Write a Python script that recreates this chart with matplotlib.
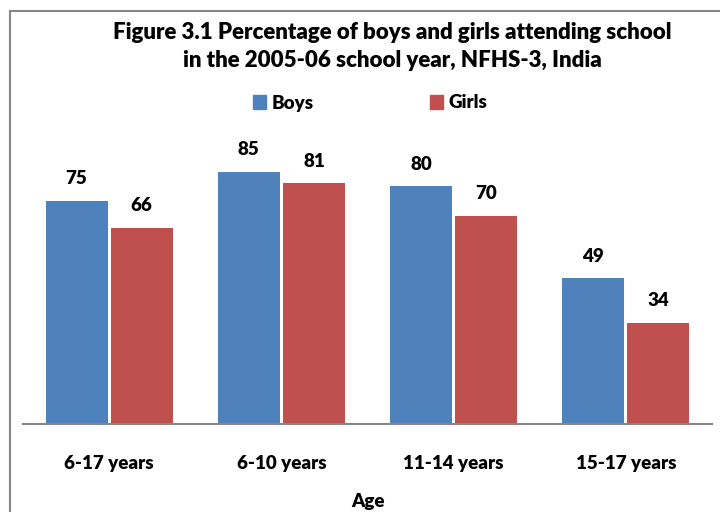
import matplotlib
matplotlib.use("Agg")
import matplotlib.pyplot as plt
import numpy as np
from matplotlib.lines import Line2D
from matplotlib.patches import Patch

categories = ["6-17 years", "6-10 years", "11-14 years", "15-17 years"]
boys = [75, 85, 80, 49]
girls = [66, 81, 70, 34]
series_names = ["Boys", "Girls"]
colors = ["#4F81BD", "#C0504D"]
title = "Figure 3.1 Percentage of boys and girls attending school\nin the 2005-06 school year, NFHS-3, India"
xlabel = "Age"

plt.rcParams['font.family'] = ['Lato', 'DejaVu Sans']
WT = "heavy"
fig = plt.figure(figsize=(7.2, 5.12), dpi=100)
ax = fig.add_axes([23/720, 1-424/512, (712-23)/720, (424-127)/512])

x = np.arange(len(categories))
w = 0.36
gap = 0.009
b1 = ax.bar(x - w/2 - gap, boys, w, color=colors[0])
b2 = ax.bar(x + w/2 + gap, girls, w, color=colors[1])
for bars, vals in ((b1, boys), (b2, girls)):
    for r, v in zip(bars, vals):
        ax.annotate(str(v), (r.get_x() + r.get_width()/2, v), xytext=(0, 10),
                    textcoords="offset points", ha="center", va="bottom",
                    fontsize=13.5, fontweight=WT, color="black")

ax.set_xlim(-0.5, len(categories) - 0.5)
ax.set_ylim(0, 100)
ax.set_yticks([])
ax.set_xticks(x)
ax.set_xticklabels(categories, fontsize=13.5, fontweight=WT, color="black")
ax.tick_params(axis="x", length=0, pad=22)
for s in ["top", "right", "left"]:
    ax.spines[s].set_visible(False)
ax.spines["bottom"].set_color("#868686")
ax.spines["bottom"].set_linewidth(1.5)

fig.text(392/720, 1-46.5/512, title, ha="center", va="center", fontsize=16,
         fontweight=WT, color="black", linespacing=1.42)
fig.text(368/720, 1-502/512, xlabel, ha="center", va="center", fontsize=13.5,
         fontweight=WT, color="black")

handles = [Patch(color=c) for c in colors]
fig.legend(handles, series_names, loc="center", bbox_to_anchor=(370/720, 1-103/512),
           ncol=2, frameon=False, prop={"weight": WT, "size": 13.5},
           handlelength=0.7, handleheight=0.7, columnspacing=6.2, handletextpad=0.3)

# chart frame (partially visible)
fig.add_artist(Line2D([10/720, 10/720], [0, 1-11/512], transform=fig.transFigure, color="#868686", lw=1.5))
fig.add_artist(Line2D([10/720, 1], [1-11/512, 1-11/512], transform=fig.transFigure, color="#868686", lw=1.5))

fig.savefig("out.png", dpi=100)
